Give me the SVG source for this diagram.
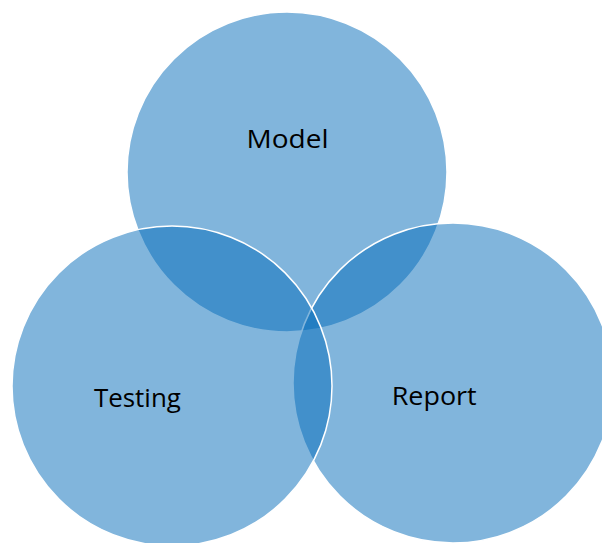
<svg xmlns="http://www.w3.org/2000/svg" width="602" height="543" viewBox="0 0 602 543">
<style>
.c{fill:#036BBA;fill-opacity:0.5;stroke:#ffffff;stroke-width:1.5}
.t{font-family:"Open Sans","Noto Sans","Liberation Sans",sans-serif;font-size:26px;fill:#000;text-anchor:middle}
</style>
<rect width="602" height="543" fill="#ffffff"/>
<g id="model">
<circle class="c" cx="287" cy="172" r="160"/>
</g>
<g id="report">
<circle class="c" cx="453" cy="383" r="160"/>
</g>
<g id="testing">
<circle class="c" cx="172" cy="386" r="160"/>
</g>
<g id="labels">
<text class="t" x="287.5" y="148" textLength="82" lengthAdjust="spacingAndGlyphs">Model</text>
<text class="t" x="137.4" y="407" textLength="87" lengthAdjust="spacingAndGlyphs">Testing</text>
<text class="t" x="434.2" y="405" textLength="85" lengthAdjust="spacingAndGlyphs">Report</text>
</g>
</svg>
